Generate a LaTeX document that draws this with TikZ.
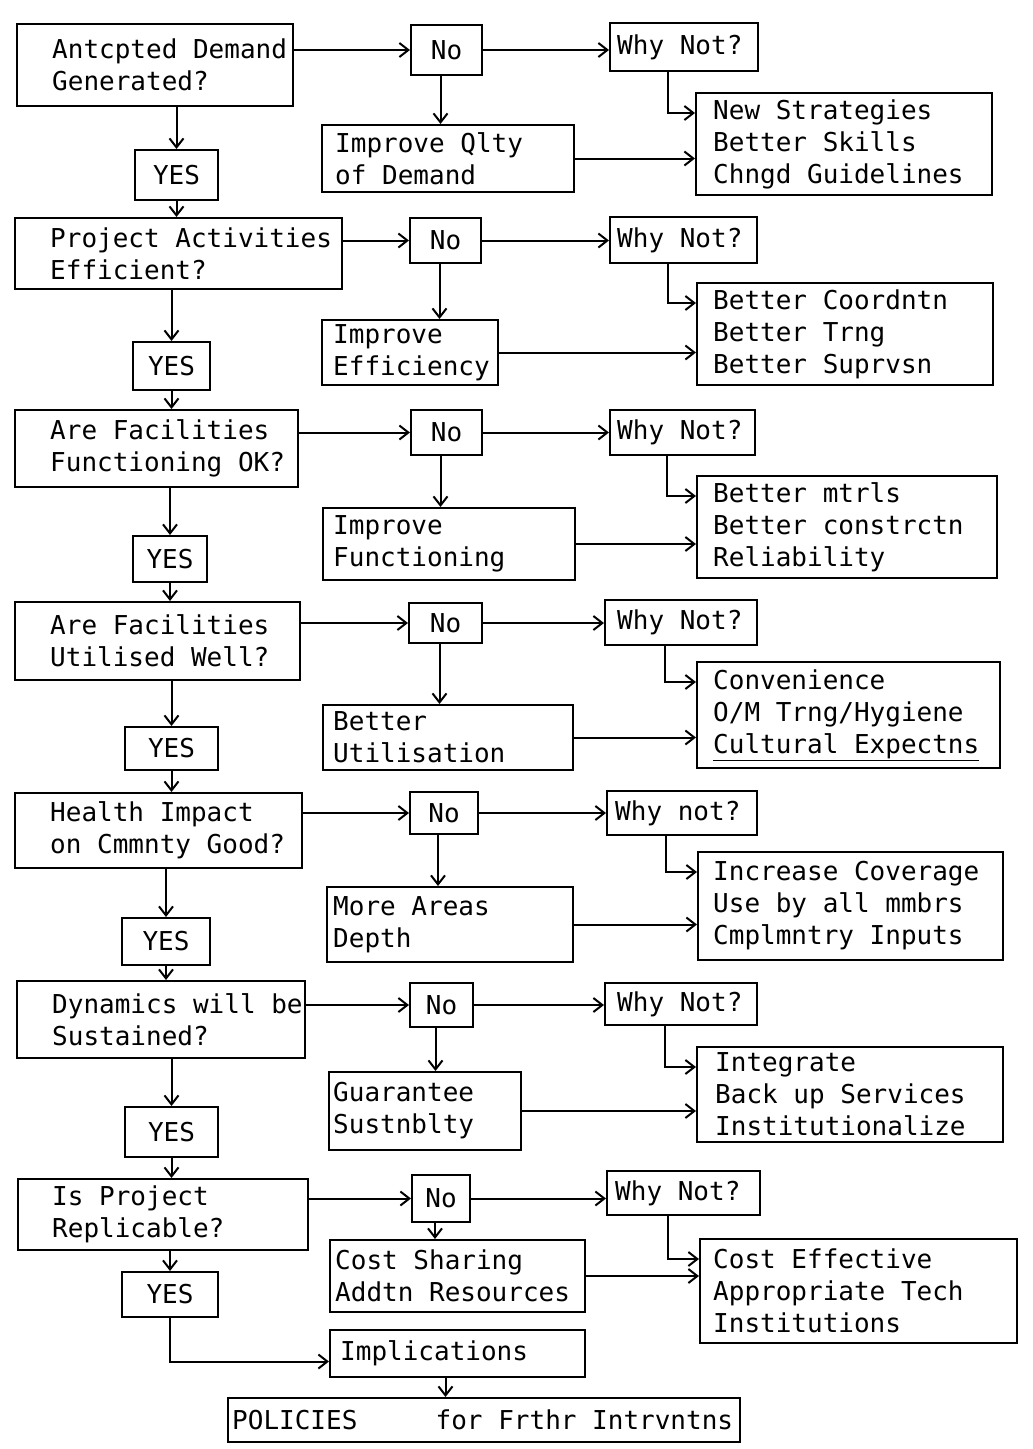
\documentclass[tikz,border=0pt]{standalone}
\usepackage{fontspec}
\setmainfont{DejaVu Sans Mono}
\usetikzlibrary{arrows.meta,fit}
\tikzset{
  frame/.style={draw, line width=2pt, inner sep=0pt},
  boxtext/.style={inner sep=0pt, align=left, font=\fontsize{26}{32}\selectfont},
  flow/.style={line width=2pt, -{Straight Barb[length=9pt,width=14pt]}},
}
% box from corner (#2,#3) to (#4,#5), text set flush left from x = #6
\newcommand\flowbox[7]{%
  \node[frame, fit={(#2,#3) (#4,#5)}] (#1) {};
  \node[boxtext, anchor=west] (#1-t) at (#6,{(#3+#5)/2}) {#7};}
% box from corner (#2,#3) to (#4,#5), text centred
\newcommand\tagbox[6]{%
  \node[frame, fit={(#2,#3) (#4,#5)}] (#1) {};
  \node[boxtext] (#1-t) at (#1.center) {#6};}
\begin{document}
\begin{tikzpicture}[x=1pt,y=-1pt]
\useasboundingbox (0,0) rectangle (1033,1449);

% ---- stage 1
\flowbox{q1}{17}{24}{293}{106}{52}{Antcpted Demand\\Generated?}
\tagbox{n1}{411}{25}{482}{75}{No}
\flowbox{w1}{610}{23}{758}{71}{617}{Why Not?}
\flowbox{i1}{322}{125}{574}{192}{335}{Improve Qlty\\of Demand}
\flowbox{r1}{696}{93}{992}{195}{713}{New Strategies\\Better Skills\\Chngd Guidelines}
\tagbox{y1}{135}{150}{218}{200}{YES}

% ---- stage 2
\flowbox{q2}{15}{218}{342}{289}{50}{Project Activities\\Efficient?}
\tagbox{n2}{410}{218}{481}{263}{No}
\flowbox{w2}{610}{217}{757}{263}{617}{Why Not?}
\flowbox{i2}{322}{320}{498}{385}{333}{Improve\\Efficiency}
\flowbox{r2}{697}{283}{993}{385}{713}{Better Coordntn\\Better Trng\\Better Suprvsn}
\tagbox{y2}{133}{342}{210}{390}{YES}

% ---- stage 3
\flowbox{q3}{15}{410}{298}{487}{50}{Are Facilities\\Functioning OK?}
\tagbox{n3}{411}{410}{482}{455}{No}
\flowbox{w3}{610}{410}{755}{455}{617}{Why Not?}
\flowbox{i3}{323}{508}{575}{580}{333}{Improve\\Functioning}
\flowbox{r3}{697}{476}{997}{578}{713}{Better mtrls\\Better constrctn\\Reliability}
\tagbox{y3}{133}{536}{207}{582}{YES}

% ---- stage 4
\flowbox{q4}{15}{602}{300}{680}{50}{Are Facilities\\Utilised Well?}
\tagbox{n4}{409}{603}{482}{643}{No}
\flowbox{w4}{605}{600}{757}{645}{617}{Why Not?}
\flowbox{i4}{323}{705}{573}{770}{333}{Better\\Utilisation}
\flowbox{r4}{697}{662}{1000}{768}{713}{Convenience\\O/M Trng/Hygiene\\\underline{Cultural Expectns}}
\tagbox{y4}{125}{727}{218}{770}{YES}

% ---- stage 5
\flowbox{q5}{15}{793}{302}{868}{50}{Health Impact\\on Cmmnty Good?}
\tagbox{n5}{410}{792}{478}{834}{No}
\flowbox{w5}{607}{791}{757}{835}{615}{Why not?}
\flowbox{i5}{327}{887}{573}{962}{333}{More Areas\\Depth}
\flowbox{r5}{698}{852}{1003}{960}{713}{Increase Coverage\\Use by all mmbrs\\Cmplmntry Inputs}
\tagbox{y5}{122}{918}{210}{965}{YES}

% ---- stage 6
\flowbox{q6}{17}{981}{305}{1058}{52}{Dynamics will be\\Sustained?}
\tagbox{n6}{410}{983}{473}{1027}{No}
\flowbox{w6}{605}{983}{757}{1025}{617}{Why Not?}
\flowbox{i6}{329}{1072}{521}{1150}{333}{Guarantee\\Sustnblty}
\flowbox{r6}{697}{1047}{1003}{1142}{715}{Integrate\\Back up Services\\Institutionalize}
\tagbox{y6}{125}{1107}{218}{1157}{YES}

% ---- stage 7
\flowbox{q7}{18}{1179}{308}{1250}{52}{Is Project\\Replicable?}
\tagbox{n7}{412}{1175}{470}{1222}{No}
\flowbox{w7}{607}{1171}{760}{1215}{615}{Why Not?}
\flowbox{i7}{330}{1240}{585}{1312}{335}{Cost Sharing\\Addtn Resources}
\flowbox{r7}{700}{1239}{1017}{1343}{713}{Cost Effective\\Appropriate Tech\\Institutions}
\tagbox{y7}{122}{1272}{218}{1317}{YES}

% ---- outcome
\flowbox{imp}{330}{1330}{585}{1377}{340}{Implications}
\flowbox{pol}{228}{1398}{740}{1442}{232}{POLICIES~~~~~for Frthr Intrvntns}

% ---- connectors within each stage
\foreach \r in {1,...,7}{
  \draw[flow] (q\r.east |- n\r.center) -- (n\r.west);
  \draw[flow] (n\r.east) -- (n\r.east -| w\r.west);
  \draw[flow] ([xshift=-6pt]n\r.south) -- ([xshift=-6pt]n\r.south |- i\r.north);
  \draw[flow] ([xshift=-16pt]w\r.south) |- ([yshift=-21pt]r\r.north west);
  \draw[flow] (i\r.east) -- (i\r.east -| r\r.west);
  \draw[flow] (q\r.south -| y\r.north) -- (y\r.north);
}
% ---- YES leads on to the next question
\foreach \a/\b in {1/2,2/3,3/4,4/5,5/6,6/7}{
  \draw[flow] (y\a.south) -- (y\a.south |- q\b.north);
}
\draw[flow] (y7.south) |- ([yshift=-8pt]imp.west);
\draw[flow] ([xshift=-12pt]imp.south) -- ([xshift=-12pt]imp.south |- pol.north);
\end{tikzpicture}
\end{document}
